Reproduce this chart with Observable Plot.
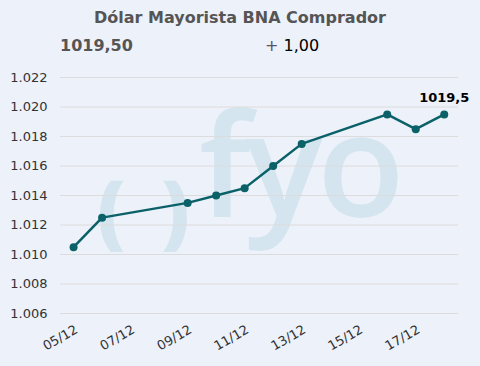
<!DOCTYPE html>
<html>
<head>
<meta charset="utf-8">
<script src="https://cdn.jsdelivr.net/npm/d3@7"></script>
<script src="https://cdn.jsdelivr.net/npm/@observablehq/plot@0.6"></script>
<style>
  html, body { margin: 0; padding: 0; background: #edf1fa; }
  #wrap { position: relative; width: 480px; height: 366px; overflow: hidden; background: #edf1fa; font-family: "DejaVu Sans", Verdana, sans-serif; }
  #title { position: absolute; top: 8px; left: 0; width: 480px; text-align: center; font-weight: bold; font-size: 16px; color: #555; }
  #last { position: absolute; top: 36px; left: 60px; font-weight: bold; font-size: 16px; color: #555; }
  #chg { position: absolute; top: 36px; left: 265px; font-size: 16px; color: #000; }
  #chg .sign { color: #556; }
  .wm { position: absolute; font-family: "Open Sans", sans-serif; font-weight: 600; color: #d4e5ef; line-height: 1; }
  #chart { position: absolute; top: 60px; left: 0; }
  #chart svg { background: transparent; }
</style>
</head>
<body>
<div id="wrap">
  <div class="wm" style="left:97px; top:168px; font-size:80px; font-weight:800;">(</div>
  <div class="wm" style="left:161px; top:168px; font-size:80px; font-weight:800;">)</div>
  <div class="wm" style="left:199px; top:90px; font-size:143px; letter-spacing:-5px;">fyo</div>
  <div id="title">Dólar Mayorista BNA Comprador</div>
  <div id="last">1019,50</div>
  <div id="chg"><span class="sign">+</span> 1,00</div>
  <div id="chart"></div>
</div>
<script>
const dates = ["2024-12-05","2024-12-06","2024-12-09","2024-12-10","2024-12-11","2024-12-12","2024-12-13","2024-12-16","2024-12-17","2024-12-18"];
const values = [1010.5,1012.5,1013.5,1014,1014.5,1016,1017.5,1019.5,1018.5,1019.5];
const yTicks = [1006,1008,1010,1012,1014,1016,1018,1020,1022];
const xTicks = ["2024-12-05","2024-12-07","2024-12-09","2024-12-11","2024-12-13","2024-12-15","2024-12-17"];

const data = dates.map((d, i) => ({date: new Date(d + "T00:00:00Z"), value: values[i]}));
const last = data[data.length - 1];
const loc = d3.formatLocale({decimal: ",", thousands: ".", grouping: [3], currency: ["$", ""]});
const fmtY = loc.format(",d");
const fmtLast = loc.format(".1f");

const chart = Plot.plot({
  width: 480,
  height: 306,
  marginLeft: 60,
  marginRight: 22,
  marginTop: 17,
  marginBottom: 53,
  style: {background: "transparent", fontFamily: "DejaVu Sans, Verdana, sans-serif", fontSize: "13px", color: "#333"},
  x: {type: "utc", domain: [new Date("2024-12-04T13:00:00Z"), new Date("2024-12-18T12:00:00Z")]},
  y: {domain: [1006, 1022]},
  marks: [
    Plot.gridY(yTicks, {stroke: "#dcdcdc", strokeOpacity: 1}),
    Plot.axisY(yTicks, {tickSize: 0, tickPadding: 13, tickFormat: fmtY, fill: "#333", label: null}),
    Plot.axisX(xTicks.map(d => new Date(d + "T00:00:00Z")), {tickSize: 0, tickPadding: 15, tickRotate: -30, tickFormat: d3.utcFormat("%d/%m"), fill: "#333", label: null, dx: 3}),
    Plot.line(data, {x: "date", y: "value", stroke: "#0a6168", strokeWidth: 2.5}),
    Plot.dot(data, {x: "date", y: "value", r: 4, fill: "#0a6168", stroke: "none"}),
    Plot.text([last], {x: "date", y: "value", text: d => fmtLast(d.value), dy: -12, lineAnchor: "bottom", fontWeight: "bold", fontSize: 13, fill: "#000"})
  ]
});
document.getElementById("chart").appendChild(chart);
</script>
</body>
</html>
